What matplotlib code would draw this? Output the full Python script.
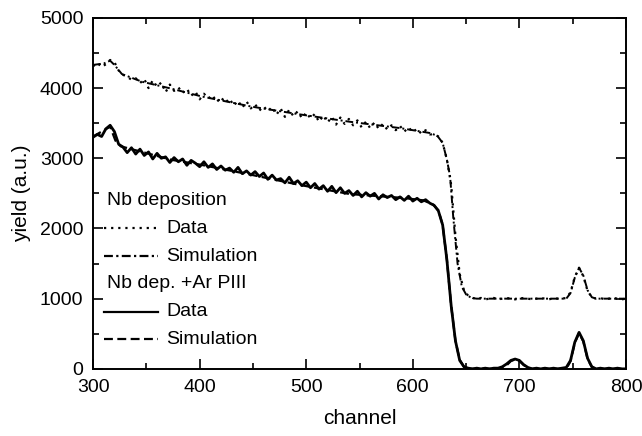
import numpy as np
import matplotlib.pyplot as plt
from matplotlib.ticker import MultipleLocator

plt.rcParams.update({
    "font.family": ["Liberation Sans", "DejaVu Sans"],
    "font.size": 14,
    "xtick.labelsize": 14,
    "ytick.labelsize": 14,
    "axes.labelsize": 15,
    "axes.linewidth": 1.4,
})

# --- data ---
channels = np.arange(300, 801, 4)

# Nb deposition, measured (scattered dots); one row = 40 channels
nb_data = [
    4310, 4360, 4300, 4340, 4400, 4370, 4250, 4190, 4160, 4120,
    4140, 4070, 4130, 4000, 4110, 4020, 4080, 3940, 4050, 3960,
    4010, 3930, 3990, 3890, 3950, 3840, 3920, 3850, 3900, 3800,
    3870, 3790, 3850, 3750, 3820, 3720, 3810, 3710, 3770, 3680,
    3740, 3670, 3730, 3620, 3710, 3590, 3690, 3600, 3670, 3570,
    3650, 3570, 3630, 3520, 3610, 3510, 3590, 3480, 3580, 3490,
    3560, 3470, 3540, 3440, 3520, 3430, 3510, 3420, 3490, 3410,
    3470, 3400, 3460, 3380, 3440, 3370, 3420, 3350, 3400, 3340,
    3340, 3310, 3220, 2980, 2620, 1900, 1350, 1120, 1040, 1010,
    1000, 1010, 990, 1000, 1010, 990, 1000, 1010, 1000, 990,
    1000, 1010, 1000, 990, 1000, 1010, 1000, 990, 1010, 1000,
    1000, 1010, 1090, 1310, 1440, 1320, 1110, 1020, 1000, 1010,
    990, 1000, 1010, 1000, 990, 1000,
]

# Nb dep. + Ar PIII, measured (noisy solid line)
ar_data = [
    3300, 3340, 3310, 3420, 3470, 3380, 3200, 3160, 3080, 3150,
    3060, 3130, 3040, 3090, 2990, 3070, 3000, 3020, 2940, 3010,
    2950, 2990, 2900, 2970, 2930, 2880, 2950, 2870, 2920, 2840,
    2890, 2830, 2860, 2800, 2870, 2780, 2820, 2760, 2810, 2740,
    2790, 2700, 2760, 2690, 2710, 2650, 2730, 2640, 2680, 2610,
    2660, 2580, 2640, 2560, 2610, 2530, 2600, 2510, 2580, 2500,
    2540, 2470, 2530, 2450, 2510, 2460, 2500, 2420, 2480, 2440,
    2470, 2410, 2450, 2400, 2460, 2390, 2430, 2380, 2410, 2360,
    2330, 2250, 2050, 1550, 900, 400, 120, 30, 10, 0,
    10, 0, 10, 0, 10, 10, 30, 70, 120, 140,
    120, 60, 20, 0, 10, 0, 10, 0, 10, 0,
    10, 20, 120, 380, 520, 400, 150, 30, 0, 10,
    0, 10, 0, 10, 0, 0,
]

# simulations (smooth)
nb_sim_ch = [300, 310, 316, 320, 327, 346, 374, 402, 449, 494, 541, 588,
             616, 623, 628, 632, 635, 638, 642, 646, 650, 655, 660, 744,
             748, 752, 756, 760, 764, 768, 772, 800]
nb_sim = [4330, 4350, 4390, 4330, 4200, 4090, 3990, 3880, 3735, 3625, 3520, 3430,
          3360, 3320, 3220, 2980, 2740, 2150, 1500, 1170, 1060, 1010, 1000, 1000,
          1080, 1300, 1440, 1330, 1120, 1020, 1000, 1000]

ar_sim_ch = [300, 308, 316, 321, 326, 346, 374, 402, 449, 494, 541, 591,
             610, 619, 624, 628, 632, 636, 640, 644, 648, 652, 684, 688,
             692, 696, 700, 704, 708, 712, 744, 748, 752, 756, 760, 764,
             768, 772, 800]
ar_sim = [3310, 3380, 3450, 3250, 3170, 3090, 2977, 2905, 2763, 2620, 2490, 2435,
          2400, 2340, 2260, 2050, 1550, 900, 400, 130, 30, 0, 0, 50,
          110, 135, 115, 55, 15, 0, 0, 110, 370, 510, 390, 140,
          25, 0, 0]

styles = {
    "nb_data": dict(ls=(0, (1, 2.2)), lw=1.6),
    "nb_sim": dict(ls=(0, (4, 1.5, 1, 1.5)), lw=1.4),
    "ar_data": dict(ls="-", lw=2.0),
    "ar_sim": dict(ls=(0, (4, 2)), lw=1.6),
}

fig = plt.figure(figsize=(6.42, 4.36), dpi=100)
ax = fig.add_axes([0.145, 0.154, 0.830, 0.805])

ax.plot(nb_sim_ch, nb_sim, color="k", **styles["nb_sim"])
ax.plot(channels, nb_data, color="k", **styles["nb_data"])
ax.plot(channels, ar_data, color="k", **styles["ar_data"])
ax.plot(ar_sim_ch, ar_sim, color="k", **styles["ar_sim"])

ax.set_xlim(300, 800)
ax.set_ylim(0, 5000)
ax.xaxis.set_major_locator(MultipleLocator(100))
ax.xaxis.set_minor_locator(MultipleLocator(50))
ax.yaxis.set_major_locator(MultipleLocator(1000))
ax.yaxis.set_minor_locator(MultipleLocator(500))
ax.tick_params(which="both", direction="in", top=True, right=True, width=1.2)
ax.tick_params(which="major", length=7, pad=7)
ax.tick_params(which="minor", length=4)

ax.set_xlabel("channel", labelpad=10)
ax.set_ylabel("yield (a.u.)", labelpad=6)

# hand-made legend with group headers
rows = [
    ("Nb deposition", None),
    ("Data", "nb_data"),
    ("Simulation", "nb_sim"),
    ("Nb dep. +Ar PIII", None),
    ("Data", "ar_data"),
    ("Simulation", "ar_sim"),
]
y0, dy = 0.479, 0.079
for i, (label, key) in enumerate(rows):
    y = y0 - i * dy
    if key is None:
        ax.text(0.026, y, label, transform=ax.transAxes, va="center", ha="left")
    else:
        ax.plot([0.02, 0.122], [y, y], color="k", transform=ax.transAxes,
                lw=1.6, ls=styles[key]["ls"])
        ax.text(0.137, y, label, transform=ax.transAxes, va="center", ha="left")

fig.savefig("out.png", dpi=100)
